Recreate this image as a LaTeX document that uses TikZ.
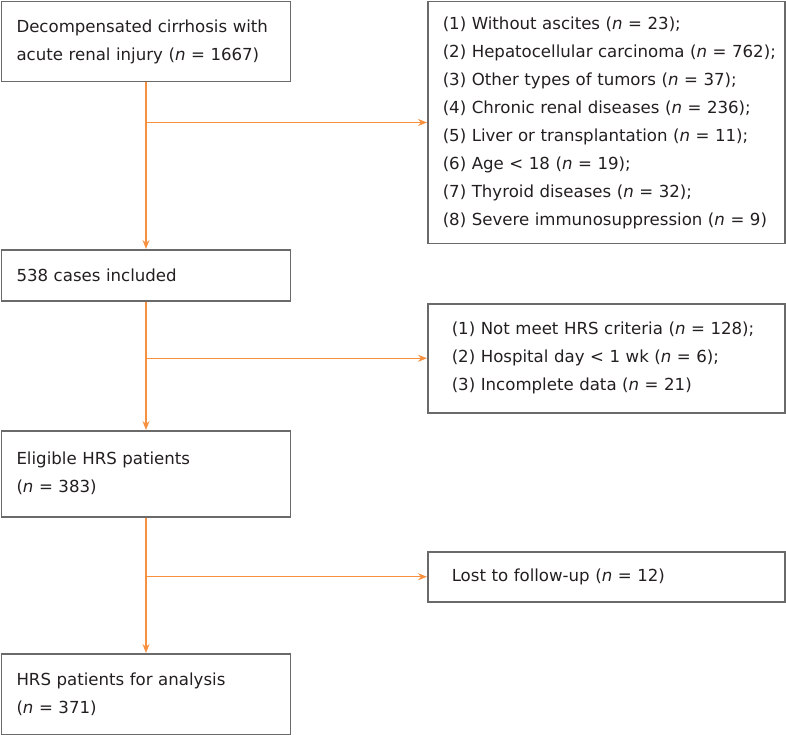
\documentclass[tikz,border=0pt]{standalone}
\usepackage{fontspec}
\setmainfont{DejaVu Sans}
\usetikzlibrary{arrows.meta,positioning}
\definecolor{arrc}{HTML}{F7913F}
\definecolor{boxc}{HTML}{6A6A6A}
\definecolor{txtc}{HTML}{231F20}
\newcommand{\nn}{\textit{n}}
\tikzset{
  x=1pt,y=-1pt,
  flowbox/.style={draw=boxc,line width=1.5pt,rectangle,anchor=north west,align=left,
     text=txtc,font=\fontsize{16.6}{28}\selectfont,inner ysep=0pt},
  leftbox/.style={flowbox,text width=259pt,inner xsep=15pt},
  rightbox/.style={flowbox,text width=327pt,inner xsep=15pt},
  rightboxb/.style={flowbox,text width=309pt,inner xsep=24pt},
  arr/.style={draw=arrc,line width=1.3pt,-{Stealth[length=9pt,width=7pt]}},
}
\begin{document}
\begin{tikzpicture}
\useasboundingbox (0,0) rectangle (786,735);
\node[leftbox,minimum height=80pt] (b1) at (0.75,0.75) {Decompensated cirrhosis with\\acute renal injury (\nn{} = 1667)};
\node[rightbox,minimum height=242pt] (r1) at (427,0.75) {(1) Without ascites (\nn{} = 23);\\\mbox{(2) Hepatocellular carcinoma (\nn{} = 762);}\\(3) Other types of tumors (\nn{} = 37);\\(4) Chronic renal diseases (\nn{} = 236);\\(5) Liver or transplantation (\nn{} = 11);\\(6) Age < 18 (\nn{} = 19);\\(7) Thyroid diseases (\nn{} = 32);\\\mbox{(8) Severe immunosuppression (\nn{} = 9)}};
\node[leftbox,minimum height=51pt] (b2) at (0.75,249) {538 cases included};
\node[rightboxb,minimum height=109pt] (r2) at (427,303) {\mbox{(1) Not meet HRS criteria (\nn{} = 128);}\\(2) Hospital day < 1 wk (\nn{} = 6);\\(3) Incomplete data (\nn{} = 21)};
\node[leftbox,minimum height=86pt] (b3) at (0.75,430) {Eligible HRS patients\\(\nn{} = 383)};
\node[rightboxb,minimum height=50pt] (r3) at (427,551) {Lost to follow-up (\nn{} = 12)};
\node[leftbox,minimum height=81pt] (b4) at (0.75,653) {HRS patients for analysis\\(\nn{} = 371)};
\draw[arr] (b1.south) -- (b2.north);
\draw[arr] (b1.south |- r1.west) -- (r1.west);
\draw[arr] (b2.south) -- (b3.north);
\draw[arr] (b2.south |- r2.west) -- (r2.west);
\draw[arr] (b3.south) -- (b4.north);
\draw[arr] (b3.south |- r3.west) -- (r3.west);
\end{tikzpicture}
\end{document}
